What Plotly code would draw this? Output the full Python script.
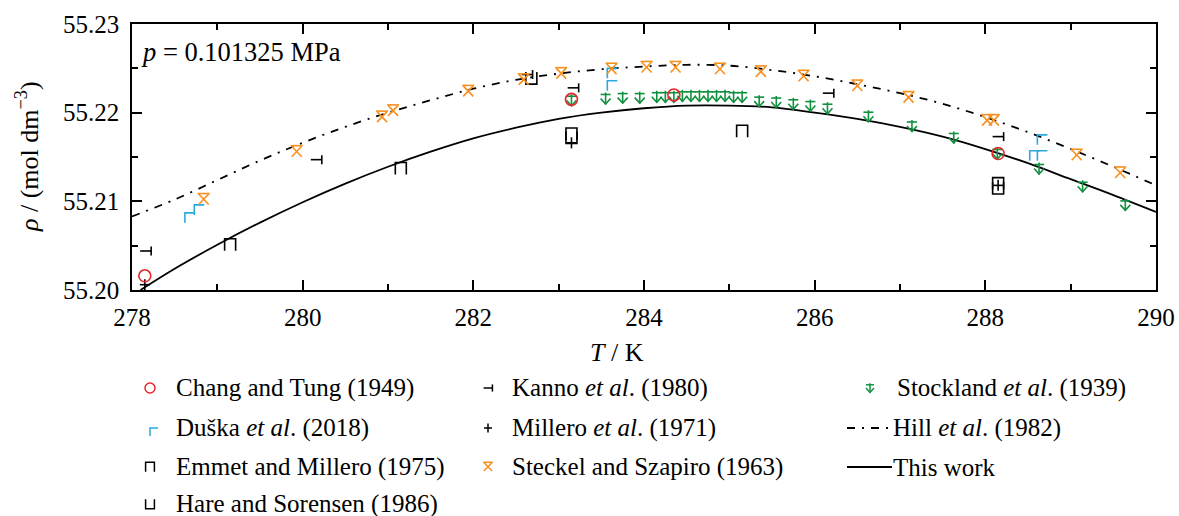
import plotly.graph_objects as go

# ---------------- data ----------------
T_work = [278.1, 278.5, 279.0, 279.5, 280.0, 280.5, 281.0, 281.5, 282.0, 282.5, 283.0, 283.5,
          284.0, 284.5, 285.0, 285.5, 286.0, 286.5, 287.0, 287.5, 288.0, 288.5, 289.0, 289.5, 290.0]
rho_work = [55.2000, 55.2024, 55.2051, 55.2076, 55.2099, 55.2120, 55.2139, 55.2156, 55.2171, 55.2183,
            55.2193, 55.2200, 55.2205, 55.2208, 55.2208, 55.2206, 55.2200, 55.2193, 55.2184, 55.2173,
            55.2159, 55.2143, 55.2125, 55.2107, 55.2088]

T_hill = [278.0, 278.5, 279.0, 279.5, 280.0, 280.5, 281.0, 281.5, 282.0, 282.5, 283.0, 283.5,
          284.0, 284.5, 285.0, 285.5, 286.0, 286.5, 287.0, 287.5, 288.0, 288.5, 289.0, 289.5, 290.0]
rho_hill = [55.2083, 55.2102, 55.2124, 55.2146, 55.2166, 55.2184, 55.2200, 55.2214, 55.2227, 55.2237,
            55.2244, 55.2249, 55.2252, 55.2254, 55.2253, 55.2248, 55.2241, 55.2232, 55.2222, 55.2210,
            55.2195, 55.2178, 55.2159, 55.2139, 55.2118]

T_chang = [278.15, 283.15, 284.35, 288.15]
rho_chang = [55.2016, 55.2215, 55.2220, 55.2154]

T_duska = [278.62, 278.73, 283.57, 283.57, 288.52, 288.61, 288.61]
rho_duska = [55.2087, 55.2096, 55.2250, 55.2236, 55.2157, 55.2175, 55.2157]

T_emmet = [279.15, 281.15, 283.15, 285.15, 288.15]
rho_emmet = [55.2051, 55.2137, 55.2176, 55.2179, 55.2120]

T_hare = [282.68, 283.15, 288.15]
rho_hare = [55.2239, 55.2172, 55.2115]

T_kanno = [278.16, 280.16, 282.63, 283.17, 286.16, 288.15]
rho_kanno = [55.2044, 55.2147, 55.2243, 55.2228, 55.2222, 55.2173]

T_millero = [278.15, 283.15, 288.15]
rho_millero = [55.2006, 55.2166, 55.2118]

T_steckel = [278.84, 279.93, 280.93, 281.06, 281.94, 282.59, 283.03, 283.62, 284.03, 284.37,
             284.89, 285.37, 285.87, 286.50, 287.10, 288.02, 288.10, 289.07, 289.58]
rho_steckel = [55.2102, 55.2156, 55.2195, 55.2202, 55.2224, 55.2237, 55.2244, 55.2249, 55.2251, 55.2251,
               55.2249, 55.2246, 55.2241, 55.2230, 55.2217, 55.2191, 55.2191, 55.2152, 55.2132]

T_stock = [283.15, 283.55, 283.75, 283.95, 284.15, 284.25, 284.35, 284.45, 284.55, 284.65, 284.75,
           284.85, 284.95, 285.05, 285.15, 285.35, 285.55, 285.75, 285.95, 286.15, 286.63, 287.14,
           287.63, 288.14, 288.63, 289.14, 289.64]
rho_stock = [55.2214, 55.2216, 55.2217, 55.2217, 55.2218, 55.2218, 55.2218, 55.2219, 55.2219, 55.2219,
             55.2219, 55.2219, 55.2219, 55.2218, 55.2218, 55.2213, 55.2212, 55.2210, 55.2208, 55.2205,
             55.2196, 55.2185, 55.2172, 55.2154, 55.2137, 55.2117, 55.2096]

x_ticks = [278, 280, 282, 284, 286, 288, 290]
y_ticks = [55.20, 55.21, 55.22, 55.23]

labels = {
    'chang': 'Chang and Tung (1949)',
    'duska': 'Duška <i>et al</i>. (2018)',
    'emmet': 'Emmet and Millero (1975)',
    'hare': 'Hare and Sorensen (1986)',
    'kanno': 'Kanno <i>et al</i>. (1980)',
    'millero': 'Millero <i>et al</i>. (1971)',
    'steckel': 'Steckel and Szapiro (1963)',
    'stock': 'Stockland <i>et al</i>. (1939)',
    'hill': 'Hill <i>et al</i>. (1982)',
    'work': 'This work',
}

# ---------------- styling / layout ----------------
W, H = 1179, 516
PL, PR, PT, PB = 132, 1156, 24, 290
XR = [278, 290]
YR = [55.20, 55.23]
SX = (PR - PL) / (XR[1] - XR[0])       # px per K
SY = (PB - PT) / (YR[1] - YR[0])       # px per density unit

FONT = 'Liberation Serif'
RED, BLUE, ORANGE, GREEN = '#e8262b', '#29a9e0', '#f7901e', '#10913f'

# marker glyphs as strokes, pixel offsets (y up)
G_DUSKA = [[(0, -10), (0, 0), (10, 0)]]
G_EMMET = [[(-5.5, -6), (-5.5, 6), (5.5, 6), (5.5, -6)]]
G_HARE = [[(-5.5, 6), (-5.5, -6), (5.5, -6), (5.5, 6)]]
G_KANNO = [[(-5.5, 0), (5.5, 0)], [(5.5, 4.5), (5.5, -4.5)]]
G_MILLERO = [[(-5, 0), (5, 0)], [(0, -5.5), (0, 5.5)]]
G_STECKEL = [[(-6, 6), (6, 6)], [(-5, 5.5), (5, -5)], [(5, 5.5), (-5, -5)]]
G_STOCK = [[(-5, 4), (5, 4)], [(0, 6), (0, -6)], [(-5, 0), (0, -5.5), (5, 0)]]


def glyph_xy(xs, ys, strokes, sx, sy, scale=1.0):
    X, Y = [], []
    for x0, y0 in zip(xs, ys):
        for stroke in strokes:
            for dx, dy in stroke:
                X.append(x0 + dx * scale / sx)
                Y.append(y0 + dy * scale / sy)
            X.append(None)
            Y.append(None)
    return X, Y


fig = go.Figure()

# curves
HILL_DASH = '8px,7px,2px,7px'
fig.add_trace(go.Scatter(x=T_hill, y=rho_hill, mode='lines', line=dict(color='black', width=1.8, dash=HILL_DASH, shape='spline')))
fig.add_trace(go.Scatter(x=T_work, y=rho_work, mode='lines', line=dict(color='black', width=1.8, shape='spline')))

# glyph markers
series = [
    (T_duska, rho_duska, G_DUSKA, BLUE),
    (T_emmet, rho_emmet, G_EMMET, 'black'),
    (T_hare, rho_hare, G_HARE, 'black'),
    (T_kanno, rho_kanno, G_KANNO, 'black'),
    (T_millero, rho_millero, G_MILLERO, 'black'),
    (T_stock, rho_stock, G_STOCK, GREEN),
    (T_steckel, rho_steckel, G_STECKEL, ORANGE),
]
for xs, ys, g, c in series:
    gx, gy = glyph_xy(xs, ys, g, SX, SY)
    fig.add_trace(go.Scatter(x=gx, y=gy, mode='lines', line=dict(color=c, width=1.6), connectgaps=False))

fig.add_trace(go.Scatter(x=T_chang, y=rho_chang, mode='markers',
                         marker=dict(symbol='circle-open', size=12, color=RED, line=dict(color=RED, width=1.6))))

# ---------------- custom legend on a pixel overlay axis ----------------
col_sym = [150, 488, 870]
col_txt = [174, 510, 895]
row_y = [388, 428, 467, 504]
legend_items = [
    ('chang', 0, 0, 'circle', RED),
    ('duska', 0, 1, G_DUSKA, BLUE),
    ('emmet', 0, 2, G_EMMET, 'black'),
    ('hare', 0, 3, G_HARE, 'black'),
    ('kanno', 1, 0, G_KANNO, 'black'),
    ('millero', 1, 1, G_MILLERO, 'black'),
    ('steckel', 1, 2, G_STECKEL, ORANGE),
    ('stock', 2, 0, G_STOCK, GREEN),
    ('hill', 2, 1, 'dash', 'black'),
    ('work', 2, 2, 'solid', 'black'),
]
annotations = []
for key, c, r, g, colr in legend_items:
    xs, ys = col_sym[c], row_y[r]
    if g == 'circle':
        fig.add_trace(go.Scatter(x=[xs], y=[ys], xaxis='x2', yaxis='y2', mode='markers',
                                 marker=dict(symbol='circle-open', size=10, color=colr, line=dict(color=colr, width=1.5))))
    elif g in ('dash', 'solid'):
        fig.add_trace(go.Scatter(x=[847, 892], y=[ys, ys], xaxis='x2', yaxis='y2', mode='lines',
                                 line=dict(color='black', width=1.8, dash=HILL_DASH if g == 'dash' else 'solid')))
    else:
        gx, gy = glyph_xy([xs], [ys], g, 1, -1, scale=0.8)
        fig.add_trace(go.Scatter(x=gx, y=gy, xaxis='x2', yaxis='y2', mode='lines',
                                 line=dict(color=colr, width=1.5)))
    tx = col_txt[c] if g not in ('dash', 'solid') else 891
    annotations.append(dict(x=tx, y=ys, xref='x2', yref='y2', text=labels[key], showarrow=False,
                            xanchor='left', yanchor='middle', font=dict(family=FONT, size=25, color='black')))

# titles and note
annotations.append(dict(x=617, y=352, xref='x2', yref='y2', text='<i>T</i> / K', showarrow=False,
                        xanchor='center', yanchor='middle', font=dict(family=FONT, size=26, color='black')))
annotations.append(dict(x=27, y=157, xref='x2', yref='y2', text='<i>ρ</i> / (mol dm<sup>−3</sup>)', showarrow=False,
                        textangle=-90, xanchor='center', yanchor='middle', font=dict(family=FONT, size=26, color='black')))
annotations.append(dict(x=139, y=52, xref='x2', yref='y2', text='<i>p</i> = 0.101325 MPa', showarrow=False,
                        xanchor='left', yanchor='middle', font=dict(family=FONT, size=26.5, color='black')))

axis_common = dict(showgrid=False, zeroline=False, showline=True, linecolor='black', linewidth=1.5,
                   ticks='inside', ticklen=10, tickwidth=1.5, tickcolor='black', mirror='allticks',
                   tickfont=dict(family=FONT, size=25, color='black'), automargin=False)

fig.update_layout(
    width=W, height=H, margin=dict(l=0, r=0, t=0, b=0, pad=0, autoexpand=False),
    plot_bgcolor='rgba(0,0,0,0)', paper_bgcolor='white', showlegend=False,
    xaxis=dict(domain=[PL / W, PR / W], range=XR, tickvals=x_ticks, ticktext=[str(v) for v in x_ticks],
               minor=dict(dtick=1, tick0=278, ticks='inside', ticklen=6, tickwidth=1.5, tickcolor='black'),
               ticklabelstandoff=4, **axis_common),
    yaxis=dict(domain=[1 - PB / H, 1 - PT / H], range=YR, tickvals=y_ticks, ticktext=[f'{v:.2f}' for v in y_ticks],
               minor=dict(dtick=0.005, tick0=55.2, ticks='inside', ticklen=6, tickwidth=1.5, tickcolor='black'),
               ticklabelstandoff=6, **axis_common),
    xaxis2=dict(domain=[0, 1], range=[0, W], visible=False, anchor='y2', fixedrange=True),
    yaxis2=dict(domain=[0, 1], range=[H, 0], visible=False, anchor='x2', fixedrange=True),
    annotations=annotations,
)

fig.write_html('out.html')
